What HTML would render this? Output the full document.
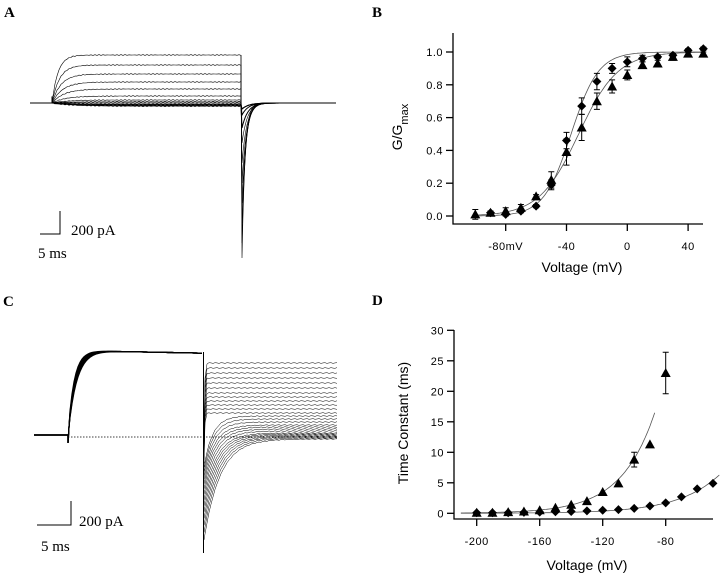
<!DOCTYPE html>
<html><head><meta charset="utf-8">
<style>
html,body{margin:0;padding:0;background:#fff;overflow:hidden;}
svg{display:block;}
.lbl{font-family:"Liberation Serif",serif;font-weight:bold;font-size:15px;}
.tick{font-family:"Liberation Sans",sans-serif;font-size:11px;letter-spacing:0.5px;}
.ttl{font-family:"Liberation Sans",sans-serif;font-size:14px;}
.sc{font-family:"Liberation Serif",serif;font-size:15px;}
</style></head>
<body>
<svg id="fig" width="720" height="579" viewBox="0 0 720 579" xmlns="http://www.w3.org/2000/svg">
<text class="lbl" x="4" y="17">A</text>
<text class="lbl" x="372" y="17">B</text>
<text class="lbl" x="3" y="306">C</text>
<text class="lbl" x="372" y="305">D</text>
<g id="pa"></g>
<g id="pc"></g>
<g id="pb"></g>
<g id="pd"></g>
<g>
<path d="M40 234 H60 V211" fill="none" stroke="#000" stroke-width="1"/>
<text class="sc" x="71" y="235">200 pA</text>
<text class="sc" x="38" y="258">5 ms</text>
</g>
<g>
<path d="M37 525 H71 V501" fill="none" stroke="#000" stroke-width="1"/>
<text class="sc" x="79" y="526">200 pA</text>
<text class="sc" x="41" y="551">5 ms</text>
</g>
</svg>
<script>
// Panel B data
const bV = [-100,-90,-80,-70,-60,-50,-40,-30,-20,-10,0,10,20,30,40,50];
const bDiamond = [null,0.02,0.01,0.03,0.06,0.19,0.46,0.67,0.82,0.90,0.94,0.96,0.97,0.98,1.01,1.02];
const bDiamondErr = [0,0.01,0.01,0.01,0.01,0.03,0.05,0.05,0.05,0.03,0.03,0.02,0.01,0.01,0.01,0.01];
const bTri = [0.01,0.02,0.03,0.05,0.12,0.22,0.39,0.54,0.70,0.79,0.86,0.92,0.93,0.97,0.99,0.99];
const bTriErr = [0.03,0.01,0.02,0.02,0.01,0.05,0.08,0.08,0.05,0.04,0.03,0.02,0.02,0.02,0.01,0.01];
const bXTicks = [-80,-40,0,40];
const bXTickLabels = ["-80mV","-40","0","40"];
const bYTicks = [0,0.2,0.4,0.6,0.8,1.0];
const bYTickLabels = ["0.0","0.2","0.4","0.6","0.8","1.0"];
const bFitDiamond = [-37, 9];
const bFitTri = [-32, 13];
// Panel D data
const dV = [-200,-190,-180,-170,-160,-150,-140,-130,-120,-110,-100,-90,-80,-70,-60,-50];
const dTri = [0.1,0.1,0.2,0.3,0.5,0.9,1.4,2.0,3.5,4.9,8.8,11.3,23.0,null,null,null];
const dTriErr = [0,0,0,0,0,0,0,0,0,0,1.2,0,3.4,0,0,0];
const dDiamond = [0.1,0.1,0.1,0.15,0.2,0.25,0.3,0.4,0.5,0.6,0.8,1.2,1.7,2.7,4.0,4.9];
const dXTicks = [-200,-160,-120,-80];
const dXTickLabels = ["-200","-160","-120","-80"];
const dYTicks = [0,5,10,15,20,25,30];
const dYTickLabels = ["0","5","10","15","20","25","30"];
const dFitTri = [3.5, -120, 21.3, -210, -87];
const dFitDiamond = [1.7, -80, 26, -210, -46];
// Panel A data
const aLevels = [48,38,29,21,14,7,3,1,-1,-2,-3];
const aTailPeaks = [155,140,120,100,80,60,40,25,12,6];
// Panel C data (tail steady levels)
const cTailLevels = [72,67,62,57,52,47,42,38,34,30,26,22,19,16,13,10,8,6,4,2,1,0,-1,-2,-3,-4];
</script>
<script>
const NS="http://www.w3.org/2000/svg";
function mk(tag,attrs,parent){const e=document.createElementNS(NS,tag);for(const k in attrs)e.setAttribute(k,attrs[k]);parent.appendChild(e);return e;}

function scatterPanel(g,o){
  const sx=v=>o.x0+(v-o.xv0)*o.xs, sy=v=>o.y0-(v)*o.ys;
  let ax=mk('path',{d:`M${o.axX} ${o.axTop} V${o.axY} H${o.axRight}`,fill:'none',stroke:'#000','stroke-width':1.3},g);
  
  
  o.yt.forEach((t,i)=>{
    mk('line',{x1:o.axX-7,x2:o.axX,y1:sy(t),y2:sy(t),stroke:'#000','stroke-width':1.3},g);
    const tx=mk('text',{x:o.axX-10,y:sy(t)+4,'text-anchor':'end',class:'tick'},g);
    tx.textContent=o.ytl[i];
    
    
  });
  o.xt.forEach((t,i)=>{
    mk('line',{x1:sx(t),x2:sx(t),y1:o.axY,y2:o.axY+7,stroke:'#000','stroke-width':1.3},g);
    const tx=mk('text',{x:sx(t),y:o.axY+26,'text-anchor':'middle',class:'tick'},g);
    tx.textContent=o.xtl[i];
    
    
  });
  const xt=mk('text',{x:o.xtx,y:o.xty,'text-anchor':'middle',class:'ttl'},g);
  xt.textContent='Voltage (mV)';
  
  
  const yt=mk('text',{x:o.ytx,y:o.yty,'text-anchor':'middle',class:'ttl',transform:`rotate(-90 ${o.ytx} ${o.yty})`},g);
  yt.innerHTML=o.ytitle;
  
  
  o.fits.forEach(f=>{
    let d='';for(let v=f.a;v<=f.b;v+=1){d+=(d?'L':'M')+sx(v).toFixed(1)+' '+sy(f.fn(v)).toFixed(1);}
    const p=mk('path',{d,fill:'none',stroke:'#555','stroke-width':0.8},g);
    
    
  });
  o.series.forEach(s=>{
    s.vals.forEach((val,i)=>{
      if(val==null)return;
      const x=sx(o.xs_[i]),y=sy(val);
      if(s.err&&s.err[i]>0){
        const e=s.err[i];
        mk('path',{d:`M${x} ${sy(val-e)} V${sy(val+e)} M${x-3} ${sy(val-e)} H${x+3} M${x-3} ${sy(val+e)} H${x+3}`,stroke:'#000','stroke-width':1,fill:'none'},g);
      }
      let m;
      if(s.shape==='tri') m=mk('path',{d:`M${x} ${y-5} L${x+5} ${y+4} L${x-5} ${y+4}Z`,fill:'#000'},g);
      else m=mk('path',{d:`M${x} ${y-4.5} L${x+4.5} ${y} L${x} ${y+4.5} L${x-4.5} ${y}Z`,fill:'#000'},g);
      
      
    });
  });
}

scatterPanel(document.getElementById('pb'),{
  x0:627.3,xv0:0,xs:60.8/40,y0:216,ys:164,axX:453,axTop:33,axY:224,axRight:703,
  xt:bXTicks,xtl:bXTickLabels,yt:bYTicks,ytl:bYTickLabels,xs_:bV,
  xtx:582,xty:272,ytx:402,yty:127,ytitle:'G/G<tspan baseline-shift="sub" font-size="11">max</tspan>',
  fits:[{a:-100,b:50,fn:v=>1/(1+Math.exp((bFitDiamond[0]-v)/bFitDiamond[1]))},{a:-100,b:50,fn:v=>1/(1+Math.exp((bFitTri[0]-v)/bFitTri[1]))}],
  series:[{name:'diamond-point',shape:'dia',vals:bDiamond,err:bDiamondErr},{name:'triangle-point',shape:'tri',vals:bTri,err:bTriErr}]
});
scatterPanel(document.getElementById('pd'),{
  x0:476.7,xv0:-200,xs:63/40,y0:513.3,ys:183/30,axX:454,axTop:330,axY:519,axRight:713,
  xt:dXTicks,xtl:dXTickLabels,yt:dYTicks,ytl:dYTickLabels,xs_:dV,
  xtx:587,xty:570,ytx:408,yty:423,ytitle:'Time Constant (ms)',
  fits:[{a:dFitTri[3],b:dFitTri[4],fn:v=>dFitTri[0]*Math.exp((v-dFitTri[1])/dFitTri[2])},{a:dFitDiamond[3],b:dFitDiamond[4],fn:v=>dFitDiamond[0]*Math.exp((v-dFitDiamond[1])/dFitDiamond[2])}],
  series:[{name:'triangle-point',shape:'tri',vals:dTri,err:dTriErr},{name:'diamond-point',shape:'dia',vals:dDiamond}]
});

// Panel A traces
(function(){
  const g=document.getElementById('pa');const base=103;
  aLevels.forEach((lv,i)=>{
    let d=`M30 ${base} L52 ${base} L52 ${base-6}`;
    for(let x=53;x<=241;x+=2){const f=1-Math.exp(-(x-52)/(6+i*1.5));d+=`L${x} ${(base-lv*f+(Math.sin(x*1.7+i)*0.4)).toFixed(1)}`;}
    const pk=aTailPeaks[Math.min(i,aTailPeaks.length-1)];
    d+=`L242 ${base+pk}`;
    for(let x=243;x<=336;x+=1){d+=`L${x} ${(base+pk*Math.exp(-(x-242)/(3+i*0.4))).toFixed(1)}`;}
    const p=mk('path',{d,fill:'none',stroke:'#000','stroke-width':i>6?1:0.6},g);
    
    
  });
  mk('line',{x1:241,x2:241,y1:55,y2:103,stroke:'#000','stroke-width':0.6},g);
})();

// Panel C traces
(function(){
  const g=document.getElementById('pc');const base=435;
  for(let k=0;k<6;k++){
    let d=`M34 ${base} L68 ${base} L68 ${base+8} L69 ${base-8}`;
    for(let x=70;x<=203;x+=2){const f=1-Math.exp(-(x-68)/(6+k*0.5));d+=`L${x} ${(base-84*f+(x>95?(x-95)*0.02:0)).toFixed(1)}`;}
    const p=mk('path',{d,fill:'none',stroke:'#000','stroke-width':1.2},g);
    
    
  }
  mk('line',{x1:203.5,x2:203.5,y1:352,y2:553,stroke:'#000','stroke-width':1},g);
  const n=cTailLevels.length;
  cTailLevels.forEach((lv,i)=>{
    const ss=base-lv;
    const frac=i/(n-1);
    const start=base+10+95*frac*frac;
    const tau=lv>20?0.6:(2+14*frac);
    let d=`M204 ${start.toFixed(1)}`;
    for(let x=205;x<=337;x+=2){const f=Math.exp(-(x-204)/tau);d+=`L${x} ${(ss+(start-ss)*f+Math.sin(x*2.1+i)*0.4).toFixed(1)}`;}
    const p=mk('path',{d,fill:'none',stroke:'#000','stroke-width':0.5},g);
    
    
  });
  const dl=mk('line',{x1:68,x2:337,y1:437,y2:437,stroke:'#000','stroke-width':0.8,'stroke-dasharray':'1.5 1.5'},g);
  
  
})();
</script>
</body></html>
